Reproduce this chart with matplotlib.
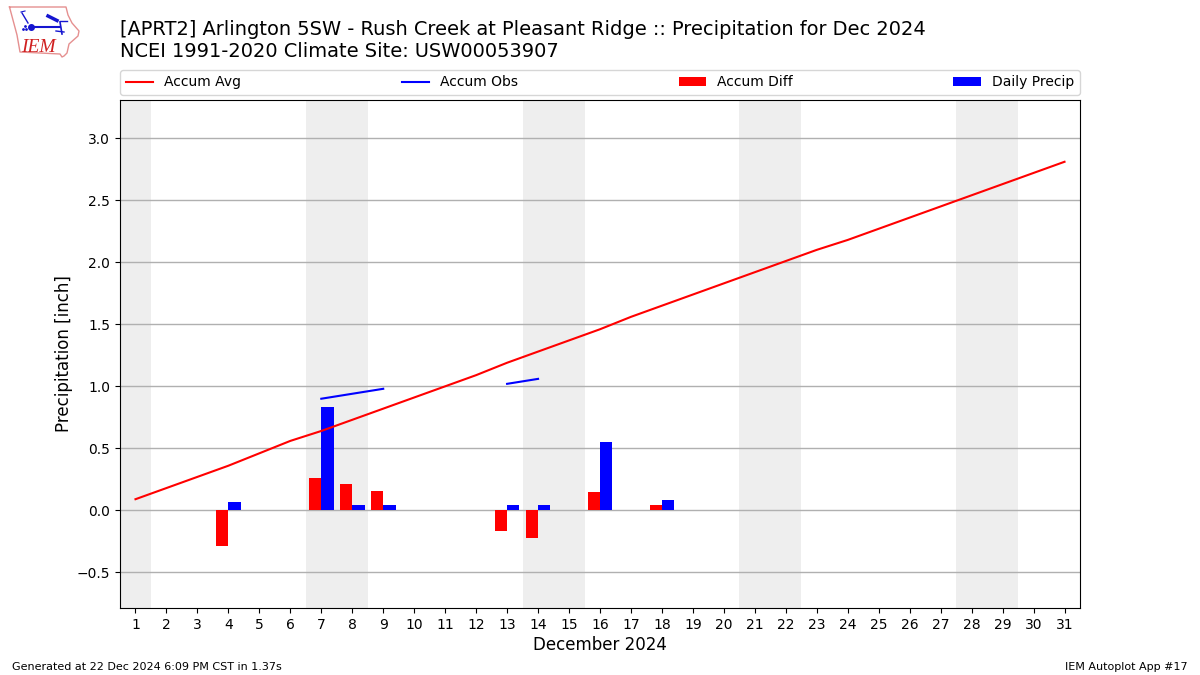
import numpy as np
import matplotlib
matplotlib.use("Agg")
import matplotlib.pyplot as plt

days = list(range(1, 32))
accum_avg = [0.09, 0.18, 0.27, 0.36, 0.46, 0.56, 0.64, 0.73, 0.82, 0.91, 1.00,
             1.09, 1.19, 1.28, 1.37, 1.46, 1.56, 1.65, 1.74, 1.83, 1.92, 2.01,
             2.10, 2.18, 2.27, 2.36, 2.45, 2.54, 2.63, 2.72, 2.81]
obs_days = [7, 8, 9, 13, 14]
accum_obs = [0.90, 0.94, 0.98, 1.02, 1.06]
diff_days = [4, 7, 8, 9, 13, 14, 16, 18]
accum_diff = [-0.29, 0.26, 0.21, 0.16, -0.17, -0.22, 0.15, 0.04]
precip_days = [4, 7, 8, 9, 13, 14, 16, 18]
daily_precip = [0.07, 0.83, 0.04, 0.04, 0.04, 0.04, 0.55, 0.08]
weekends = [(0.5, 1.5), (6.5, 8.5), (13.5, 15.5), (20.5, 22.5), (27.5, 29.5)]

W, H = 1200, 675
fig = plt.figure(figsize=(12, 6.75), dpi=100)
ax = fig.add_axes([120 / W, 1 - 608 / H, 960 / W, 508 / H])

for a, b in weekends:
    ax.axvspan(a, b, color="#eeeeee", lw=0, zorder=0)
ax.grid(axis="y", color="#b0b0b0", lw=1, zorder=1)
ax.set_axisbelow(True)

obs_series = np.full(31, np.nan)
for d, v in zip(obs_days, accum_obs):
    obs_series[d - 1] = v

ax.plot(days, accum_avg, color="red", lw=1.5, label="Accum Avg", zorder=3)
ax.plot(days, obs_series, color="blue", lw=1.5, label="Accum Obs", zorder=3)
ax.bar(diff_days, accum_diff, width=-0.4, align="edge", color="red", label="Accum Diff", zorder=2)
ax.bar(precip_days, daily_precip, width=0.4, align="edge", color="blue", label="Daily Precip", zorder=2)

ax.set_xlim(0.5, 31.5)
ax.set_ylim(-0.787, 3.308)
ax.set_xticks(days)
ax.set_yticks([-0.5, 0, 0.5, 1.0, 1.5, 2.0, 2.5, 3.0])
ax.tick_params(labelsize=10)
ax.set_xlabel("December 2024", fontsize=12, labelpad=3)
ax.set_ylabel("Precipitation [inch]", fontsize=12, labelpad=3)

ax.legend(loc="lower left", bbox_to_anchor=(0, 1.0098, 1, 0.05), mode="expand",
          ncol=4, borderaxespad=0, fontsize=10, frameon=True)

fig.text(120 / W, 1 - 35 / H, "[APRT2] Arlington 5SW - Rush Creek at Pleasant Ridge :: Precipitation for Dec 2024",
         fontsize=13.97, ha="left", va="baseline")
fig.text(120 / W, 1 - 57 / H, "NCEI 1991-2020 Climate Site: USW00053907",
         fontsize=13.97, ha="left", va="baseline")
fig.text(12 / W, 1 - 670 / H, "Generated at 22 Dec 2024 6:09 PM CST in 1.37s", fontsize=8, ha="left", va="baseline")
fig.text(1188 / W, 1 - 670 / H, "IEM Autoplot App #17", fontsize=8, ha="right", va="baseline")

# Logo drawn in a pixel-coordinate overlay
lg = fig.add_axes([0, 0, 1, 1], facecolor="none")
lg.set_xlim(0, W)
lg.set_ylim(H, 0)
lg.axis("off")
ox = [9.5, 66, 68, 72, 79, 78, 69, 67, 64, 62, 60, 20, 17, 9.5]
oy = [7, 7, 15, 23, 31, 36, 44, 53, 56, 57, 54, 52, 35, 7]
lg.plot(ox, oy, color="#e59090", lw=1)
blue = "#1515d0"
lg.plot([31, 60], [26.5, 26.5], color=blue, lw=1.5)
lg.plot([60, 67], [21, 21], color=blue, lw=1)
lg.plot([22, 28], [13, 23], color=blue, lw=1)
lg.plot([21, 25], [12, 11], color=blue, lw=0.8)
lg.plot([31], [26.5], "o", color=blue, ms=4)
lg.plot([60, 62], [22, 34], color=blue, lw=1.2)
lg.plot([56, 64], [31, 32], color=blue, lw=1)
lg.plot([48, 57], [16, 20.5], color=blue, lw=2.5)
lg.plot([23, 26, 24.5], [29, 29, 26], ls="none", marker=".", color=blue, ms=2)
lg.text(38, 52, "IEM", color="#d02020", fontsize=14, family="Liberation Serif", style="italic", ha="center", va="baseline")

fig.savefig("out.png", dpi=100)
